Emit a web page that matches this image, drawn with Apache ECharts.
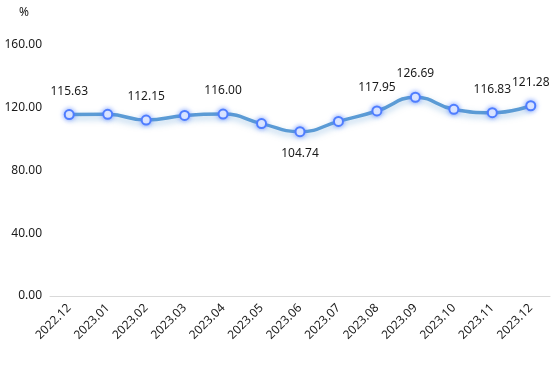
<!DOCTYPE html>
<html><head><meta charset="utf-8">
<script src="https://cdn.jsdelivr.net/npm/echarts@6/dist/echarts.min.js"></script>
<style>html,body{margin:0;padding:0;background:#fff}#c{width:554px;height:365px}</style>
</head><body><div id="c"></div>
<script>
var categories = ['2022.12','2023.01','2023.02','2023.03','2023.04','2023.05','2023.06','2023.07','2023.08','2023.09','2023.10','2023.11','2023.12'];
var values = [115.63, 115.8, 112.15, 115.1, 116.00, 109.9, 104.74, 111.3, 117.95, 126.69, 119.0, 116.83, 121.28];
var labelShown = [true,false,true,false,true,false,true,false,true,true,false,true,true];
var labelBelow = [false,false,false,false,false,false,true,false,false,false,false,false,false];

var data = values.map(function(v,i){
  return {value:v, label:{show:labelShown[i], position: labelBelow[i]?'bottom':'top', distance: labelBelow[i]?10:12}};
});
var chart = echarts.init(document.getElementById('c'));
chart.setOption({
  animation:false,
  textStyle:{fontFamily:'"Noto Sans", sans-serif'},
  grid:{left:50,right:4,top:45,bottom:69},
  xAxis:{type:'category',data:categories,boundaryGap:true,
    axisLine:{lineStyle:{color:'#d9d9d9'}},axisTick:{show:false},
    axisLabel:{rotate:45,color:'#1a1a1a',fontSize:12,margin:10,interval:0}},
  yAxis:{type:'value',min:0,max:160,interval:40,name:'%',
    nameTextStyle:{color:'#1a1a1a',fontSize:12,align:'right',padding:[0,21,0,0]},
    nameGap:26,
    axisLine:{show:false},axisTick:{show:false},splitLine:{show:false},
    axisLabel:{color:'#1a1a1a',fontSize:12,margin:8,formatter:function(v){return v.toFixed(2);}}},
  series:[{type:'line',smooth:true,data:data,
    symbol:'emptyCircle',symbolSize:9,
    lineStyle:{color:'#5b9bd5',width:3.5,shadowColor:'rgba(91,155,213,0.5)',shadowBlur:6,shadowOffsetY:3},
    itemStyle:{color:'#4f7dff',borderColor:'#4f7dff',borderWidth:2.5,shadowColor:'rgba(79,125,255,0.7)',shadowBlur:5},
    label:{color:'#1a1a1a',fontSize:12,formatter:function(p){return p.value.toFixed(2);}}
  }]
});
</script></body></html>
